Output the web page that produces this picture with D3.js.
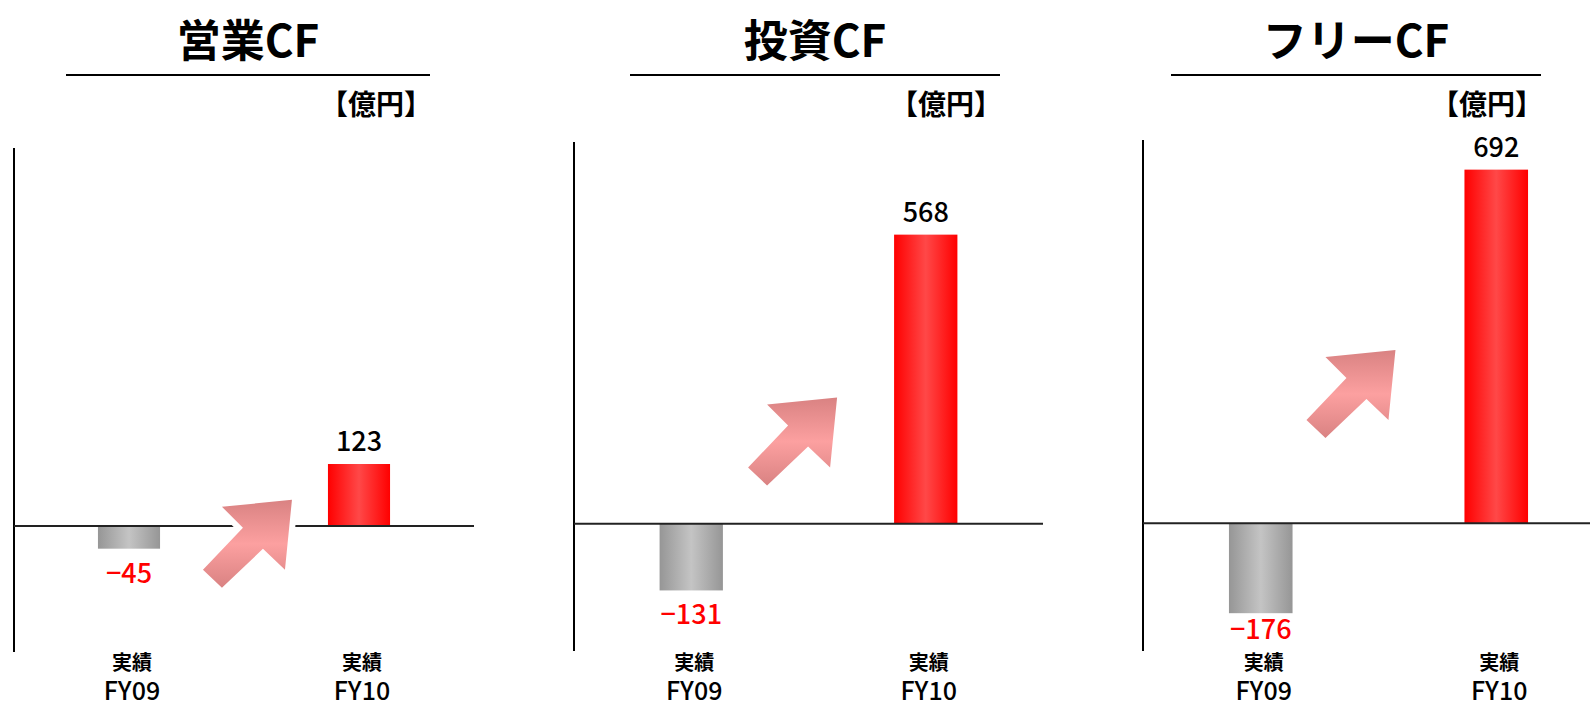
<!DOCTYPE html>
<html>
<head>
<meta charset="utf-8">
<script src="https://cdn.jsdelivr.net/npm/d3@7"></script>
<style>
  body { margin: 0; background: #fff; }
  text { font-family: "Noto Sans CJK JP", sans-serif; }
</style>
</head>
<body>
<div id="chart-area"></div>
<script>
// Data
const titles = ["営業CF", "投資CF", "フリーCF"]
const categories = ["FY09", "FY10"]
const subLabel = "実績"
const unitLabel = "【億円】"
const operatingCF = [-45, 123]
const investingCF = [-131, 568]
const freeCF = [-176, 692]
const seriesValues = [operatingCF, investingCF, freeCF]
const Y_DOMAIN = [-250, 750]

// Layout for each panel
const PANELS = [
  { axisX: 14,   top: 148, bottom: 652, right: 474,  lineL: 66,   lineR: 430,  arrow: 52,  arrowGap: 36 },
  { axisX: 574,  top: 142, bottom: 651, right: 1043, lineL: 630,  lineR: 1000, arrow: 248, arrowGap: 57 },
  { axisX: 1143, top: 140, bottom: 651, right: 1614, lineL: 1171, lineR: 1541, arrow: 339, arrowGap: 69 }
]
// arrow outline, relative to its tip
const ARROW = [[-89,70],[-70,88],[-29,49],[-7,70],[0,0],[-70,7],[-49,28]]

const svg = d3.select("#chart-area").append("svg")
  .attr("width", 1590)
  .attr("height", 705)

// Gradients
const defs = svg.append("defs")
function hGrad(id, edge, mid) {
  const g = defs.append("linearGradient").attr("id", id)
    .attr("x1", "0%").attr("x2", "100%").attr("y1", "0%").attr("y2", "0%")
  g.append("stop").attr("offset", "0%").attr("stop-color", edge)
  g.append("stop").attr("offset", "50%").attr("stop-color", mid)
  g.append("stop").attr("offset", "100%").attr("stop-color", edge)
}
hGrad("redGrad", "#ff0000", "#ff4848")
hGrad("grayGrad", "#969696", "#c4c4c4")
const ag = defs.append("linearGradient").attr("id", "arrowGrad")
  .attr("x1", "0%").attr("x2", "0%").attr("y1", "0%").attr("y2", "100%")
ag.append("stop").attr("offset", "0%").attr("stop-color", "#d98282")
ag.append("stop").attr("offset", "50%").attr("stop-color", "#fca0a0")
ag.append("stop").attr("offset", "100%").attr("stop-color", "#d98282")

PANELS.forEach((p, i) => {
  const values = seriesValues[i]
  const data = categories.map((c, j) => ({ cat: c, value: values[j] }))
  const g = svg.append("g")

  const x = d3.scaleBand()
    .domain(categories)
    .range([p.axisX, p.right])
    .paddingInner(0.73)
    .paddingOuter(0.365)

  const y = d3.scaleLinear()
    .domain(Y_DOMAIN)
    .range([p.bottom, p.top])

  // Title + underline + unit
  g.append("text")
    .attr("x", (p.lineL + p.lineR) / 2)
    .attr("y", 57)
    .attr("text-anchor", "middle")
    .attr("font-size", 44)
    .attr("font-weight", "bold")
    .text(titles[i])
  g.append("line")
    .attr("x1", p.lineL).attr("x2", p.lineR)
    .attr("y1", 75).attr("y2", 75)
    .attr("stroke", "#000").attr("stroke-width", 2)
  g.append("text")
    .attr("x", p.lineR + 2)
    .attr("y", 115)
    .attr("text-anchor", "end")
    .attr("font-size", 28)
    .attr("font-weight", "bold")
    .text(unitLabel)

  // Bars
  g.selectAll("rect.bar")
    .data(data)
    .enter().append("rect")
      .attr("class", "bar")
      .attr("x", d => x(d.cat))
      .attr("width", x.bandwidth())
      .attr("y", d => y(Math.max(0, d.value)))
      .attr("height", d => Math.abs(y(d.value) - y(0)))
      .attr("fill", d => d.value < 0 ? "url(#grayGrad)" : "url(#redGrad)")

  // Axes (left line and zero line)
  g.append("line")
    .attr("x1", p.axisX).attr("x2", p.axisX)
    .attr("y1", y(Y_DOMAIN[1])).attr("y2", y(Y_DOMAIN[0]))
    .attr("stroke", "#000").attr("stroke-width", 2)
  g.append("line")
    .attr("x1", p.axisX).attr("x2", p.right)
    .attr("y1", y(0)).attr("y2", y(0))
    .attr("stroke", "#222").attr("stroke-width", 2)

  // Arrow
  const tipX = x(categories[1]) - p.arrowGap
  const tipY = y(p.arrow)
  g.append("path")
    .attr("d", d3.line()(ARROW.map(a => [tipX + a[0], tipY + a[1]])) + "Z")
    .attr("fill", "url(#arrowGrad)")
    .attr("stroke", i === 0 ? "#fff" : "none")
    .attr("stroke-width", 12)
    .attr("paint-order", "stroke")

  // Value labels
  g.selectAll("text.val")
    .data(data)
    .enter().append("text")
      .attr("class", "val")
      .attr("x", d => x(d.cat) + x.bandwidth() / 2)
      .attr("y", d => d.value >= 0
        ? y(d.value) - 13
        : Math.min(y(d.value) + 24, p.bottom - 22) + 10)
      .attr("text-anchor", "middle")
      .attr("font-size", 27)
      .attr("font-weight", 500)
      .attr("fill", d => d.value < 0 ? "#ff0000" : "#000")
      .text(d => d.value < 0 ? "\u2212" + Math.abs(d.value) : d.value)

  // Category labels (two lines)
  const cats = g.selectAll("text.cat")
    .data(data)
    .enter().append("text")
      .attr("class", "cat")
      .attr("text-anchor", "middle")
  cats.append("tspan")
    .attr("x", d => x(d.cat) + x.bandwidth() / 2 + 3)
    .attr("y", 670)
    .attr("font-size", 20)
    .attr("font-weight", "bold")
    .text(subLabel)
  cats.append("tspan")
    .attr("x", d => x(d.cat) + x.bandwidth() / 2 + 3)
    .attr("y", 700)
    .attr("font-size", 25)
    .attr("font-weight", 500)
    .text(d => d.cat)
})
</script>
</body>
</html>
